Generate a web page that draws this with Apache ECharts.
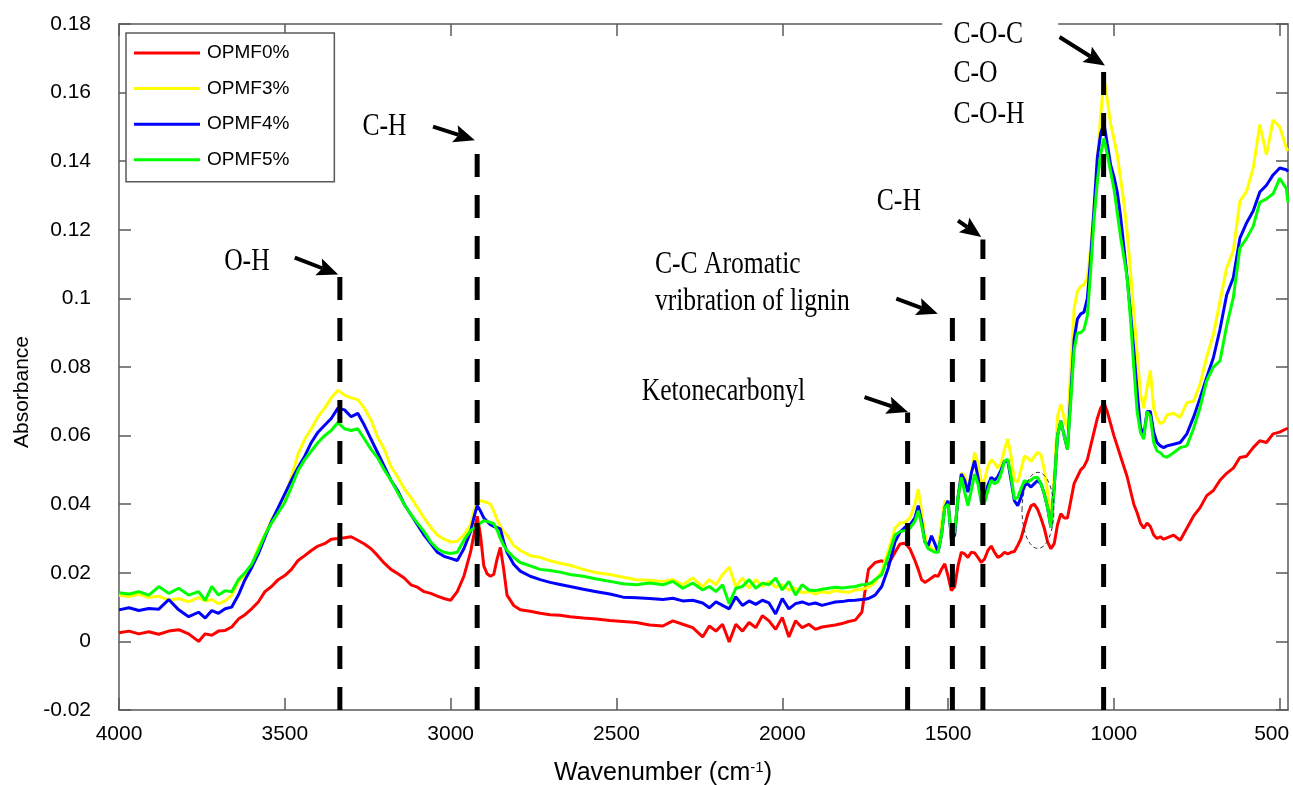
<!DOCTYPE html>
<html>
<head>
<meta charset="utf-8">
<script src="https://cdn.jsdelivr.net/npm/echarts@6/dist/echarts.min.js"></script>
<style>
  html, body { margin: 0; padding: 0; background: #fff; }
  #chart { width: 1293px; height: 785px; }
</style>
</head>
<body>
<div id="chart"></div>
<script>
// FTIR spectra, wavenumber descending (cm-1)
const wavenumber = [
  4000, 3970, 3940, 3910, 3880, 3850, 3820, 3790, 3760, 3740,
  3720, 3700, 3680, 3660, 3640, 3620, 3600, 3580, 3560, 3540,
  3520, 3500, 3480, 3460, 3440, 3420, 3400, 3380, 3360, 3340,
  3320, 3300, 3280, 3260, 3240, 3220, 3200, 3180, 3160, 3140,
  3120, 3100, 3080, 3060, 3040, 3020, 3000, 2980, 2960, 2940,
  2930, 2920, 2910, 2900, 2890, 2880, 2870, 2860, 2850, 2840,
  2830, 2810, 2790, 2760, 2730, 2700, 2670, 2640, 2600, 2560,
  2520, 2480, 2440, 2400, 2360, 2330, 2300, 2270, 2240, 2220,
  2200, 2180, 2160, 2140, 2120, 2100, 2080, 2060, 2040, 2020,
  2000, 1980, 1960, 1940, 1920, 1900, 1880, 1860, 1840, 1820,
  1800, 1780, 1760, 1750, 1740, 1730, 1720, 1700, 1680, 1660,
  1645, 1630, 1615, 1600, 1590, 1580, 1570, 1560, 1550, 1540,
  1530, 1520, 1510, 1500, 1490, 1480, 1470, 1460, 1450, 1440,
  1430, 1420, 1410, 1400, 1390, 1380, 1370, 1360, 1350, 1340,
  1330, 1320, 1310, 1300, 1290, 1280, 1270, 1260, 1250, 1240,
  1230, 1220, 1210, 1200, 1190, 1180, 1170, 1160, 1150, 1140,
  1130, 1120, 1110, 1100, 1090, 1080, 1070, 1060, 1050, 1040,
  1030, 1020, 1010, 1000, 990, 980, 970, 960, 950, 940,
  930, 920, 910, 900, 890, 880, 870, 860, 850, 840,
  820, 800, 780, 760, 740, 720, 700, 680, 660, 640,
  620, 600, 580, 560, 540, 520, 500, 480, 475
];

const opmf0 = [
  0.0025, 0.0030, 0.0022, 0.0028, 0.0021, 0.0030, 0.0034, 0.0022, 0.0000, 0.0022,
  0.0018, 0.0030, 0.0032, 0.0042, 0.0065, 0.0078, 0.0095, 0.0115, 0.0145, 0.0160,
  0.0180, 0.0192, 0.0210, 0.0236, 0.0250, 0.0265, 0.0278, 0.0285, 0.0298, 0.0300,
  0.0302, 0.0305, 0.0295, 0.0284, 0.0270, 0.0250, 0.0228, 0.0210, 0.0198, 0.0185,
  0.0165, 0.0158, 0.0145, 0.0140, 0.0132, 0.0125, 0.0120, 0.0145, 0.0190, 0.0260,
  0.0310, 0.0365, 0.0310, 0.0220, 0.0197, 0.0190, 0.0195, 0.0240, 0.0274, 0.0210,
  0.0135, 0.0105, 0.0092, 0.0088, 0.0082, 0.0078, 0.0076, 0.0072, 0.0068, 0.0065,
  0.0061, 0.0058, 0.0055, 0.0048, 0.0045, 0.0060, 0.0050, 0.0040, 0.0013, 0.0045,
  0.0030, 0.0050, -0.0002, 0.0050, 0.0030, 0.0055, 0.0040, 0.0075, 0.0060, 0.0035,
  0.0070, 0.0013, 0.0060, 0.0040, 0.0050, 0.0035, 0.0042, 0.0045, 0.0048, 0.0052,
  0.0058, 0.0062, 0.0085, 0.0150, 0.0210, 0.0220, 0.0230, 0.0235, 0.0225, 0.0260,
  0.0284, 0.0286, 0.0270, 0.0236, 0.0210, 0.0180, 0.0172, 0.0178, 0.0185, 0.0192,
  0.0190, 0.0210, 0.0226, 0.0190, 0.0148, 0.0160, 0.0220, 0.0260, 0.0255, 0.0245,
  0.0260, 0.0258, 0.0245, 0.0230, 0.0240, 0.0265, 0.0278, 0.0260, 0.0245, 0.0250,
  0.0260, 0.0255, 0.0260, 0.0262, 0.0280, 0.0300, 0.0335, 0.0370, 0.0395, 0.0400,
  0.0385, 0.0360, 0.0330, 0.0290, 0.0270, 0.0285, 0.0340, 0.0372, 0.0360, 0.0360,
  0.0410, 0.0460, 0.0480, 0.0500, 0.0510, 0.0530, 0.0570, 0.0610, 0.0650, 0.0680,
  0.0696, 0.0670, 0.0635, 0.0600, 0.0570, 0.0540, 0.0510, 0.0480, 0.0440, 0.0400,
  0.0375, 0.0345, 0.0330, 0.0345, 0.0335, 0.0310, 0.0300, 0.0305, 0.0298, 0.0302,
  0.0310, 0.0295, 0.0330, 0.0365, 0.0390, 0.0425, 0.0440, 0.0470, 0.0490, 0.0505,
  0.0536, 0.0540, 0.0565, 0.0585, 0.0580, 0.0605, 0.0610, 0.0620, 0.0620
];

const opmf3 = [
  0.0135, 0.0130, 0.0138, 0.0128, 0.0132, 0.0120, 0.0125, 0.0115, 0.0128, 0.0118,
  0.0122, 0.0110, 0.0118, 0.0135, 0.0175, 0.0195, 0.0220, 0.0274, 0.0310, 0.0355,
  0.0385, 0.0420, 0.0480, 0.0546, 0.0590, 0.0620, 0.0655, 0.0680, 0.0710, 0.0732,
  0.0718, 0.0710, 0.0705, 0.0680, 0.0645, 0.0595, 0.0560, 0.0510, 0.0480, 0.0445,
  0.0420, 0.0390, 0.0360, 0.0333, 0.0310, 0.0298, 0.0290, 0.0292, 0.0310, 0.0340,
  0.0380, 0.0405, 0.0410, 0.0408, 0.0405, 0.0400, 0.0380, 0.0355, 0.0335, 0.0320,
  0.0310, 0.0280, 0.0265, 0.0250, 0.0245, 0.0235, 0.0228, 0.0222, 0.0210, 0.0200,
  0.0195, 0.0187, 0.0180, 0.0178, 0.0175, 0.0180, 0.0165, 0.0185, 0.0160, 0.0180,
  0.0165, 0.0195, 0.0216, 0.0160, 0.0185, 0.0155, 0.0180, 0.0160, 0.0175, 0.0158,
  0.0165, 0.0150, 0.0155, 0.0142, 0.0145, 0.0138, 0.0145, 0.0142, 0.0148, 0.0145,
  0.0143, 0.0150, 0.0152, 0.0155, 0.0158, 0.0165, 0.0172, 0.0205, 0.0265, 0.0330,
  0.0345, 0.0347, 0.0360, 0.0400, 0.0444, 0.0380, 0.0310, 0.0285, 0.0270, 0.0265,
  0.0275, 0.0340, 0.0410, 0.0400, 0.0310, 0.0315, 0.0420, 0.0490, 0.0485, 0.0440,
  0.0490, 0.0551, 0.0520, 0.0465, 0.0470, 0.0510, 0.0530, 0.0520, 0.0505, 0.0520,
  0.0560, 0.0590, 0.0540, 0.0470, 0.0465, 0.0500, 0.0540, 0.0535, 0.0525, 0.0540,
  0.0551, 0.0545, 0.0500, 0.0435, 0.0355, 0.0480, 0.0655, 0.0692, 0.0650, 0.0620,
  0.0800, 0.0970, 0.1020, 0.1035, 0.1040, 0.1060, 0.1150, 0.1260, 0.1400, 0.1530,
  0.1642, 0.1580, 0.1510, 0.1465, 0.1420, 0.1350, 0.1280, 0.1190, 0.1080, 0.0960,
  0.0840, 0.0720, 0.0680, 0.0740, 0.0790, 0.0680, 0.0650, 0.0635, 0.0640, 0.0660,
  0.0665, 0.0653, 0.0696, 0.0700, 0.0750, 0.0830, 0.0895, 0.0992, 0.1089, 0.1138,
  0.1283, 0.1312, 0.1380, 0.1506, 0.1418, 0.1520, 0.1500, 0.1438, 0.1430
];

const opmf4 = [
  0.0092, 0.0098, 0.0090, 0.0096, 0.0094, 0.0122, 0.0092, 0.0072, 0.0085, 0.0068,
  0.0090, 0.0082, 0.0095, 0.0100, 0.0135, 0.0180, 0.0215, 0.0255, 0.0304, 0.0350,
  0.0390, 0.0430, 0.0470, 0.0507, 0.0540, 0.0580, 0.0610, 0.0630, 0.0650, 0.0680,
  0.0675, 0.0655, 0.0665, 0.0630, 0.0590, 0.0550, 0.0510, 0.0470, 0.0440, 0.0400,
  0.0370, 0.0340, 0.0310, 0.0285, 0.0260, 0.0248, 0.0242, 0.0236, 0.0270, 0.0320,
  0.0360, 0.0396, 0.0380, 0.0360, 0.0350, 0.0340, 0.0335, 0.0332, 0.0328, 0.0290,
  0.0260, 0.0225, 0.0205, 0.0190, 0.0180, 0.0172, 0.0166, 0.0160, 0.0152, 0.0145,
  0.0138, 0.0129, 0.0127, 0.0125, 0.0122, 0.0126, 0.0118, 0.0120, 0.0112, 0.0098,
  0.0115, 0.0105, 0.0095, 0.0130, 0.0105, 0.0118, 0.0108, 0.0120, 0.0112, 0.0080,
  0.0125, 0.0095, 0.0110, 0.0115, 0.0108, 0.0112, 0.0105, 0.0110, 0.0115, 0.0116,
  0.0119, 0.0120, 0.0122, 0.0123, 0.0125, 0.0130, 0.0135, 0.0160, 0.0215, 0.0290,
  0.0318, 0.0333, 0.0340, 0.0360, 0.0396, 0.0350, 0.0290, 0.0279, 0.0308, 0.0285,
  0.0260, 0.0310, 0.0390, 0.0410, 0.0294, 0.0310, 0.0420, 0.0488, 0.0470, 0.0435,
  0.0490, 0.0527, 0.0480, 0.0420, 0.0410, 0.0455, 0.0478, 0.0470, 0.0480, 0.0500,
  0.0525, 0.0527, 0.0470, 0.0410, 0.0396, 0.0420, 0.0455, 0.0459, 0.0450, 0.0460,
  0.0469, 0.0460, 0.0430, 0.0390, 0.0333, 0.0450, 0.0600, 0.0643, 0.0600, 0.0560,
  0.0720, 0.0880, 0.0940, 0.0955, 0.0960, 0.1000, 0.1120, 0.1260, 0.1410, 0.1480,
  0.1511, 0.1450, 0.1390, 0.1355, 0.1310, 0.1240, 0.1150, 0.1060, 0.0960, 0.0850,
  0.0730, 0.0625, 0.0600, 0.0670, 0.0670, 0.0610, 0.0580, 0.0570, 0.0565, 0.0570,
  0.0575, 0.0580, 0.0605, 0.0653, 0.0710, 0.0770, 0.0827, 0.0910, 0.1010, 0.1060,
  0.1176, 0.1220, 0.1255, 0.1310, 0.1330, 0.1360, 0.1380, 0.1375, 0.1370
];

const opmf5 = [
  0.0142, 0.0138, 0.0145, 0.0135, 0.0160, 0.0140, 0.0155, 0.0135, 0.0145, 0.0120,
  0.0160, 0.0135, 0.0148, 0.0145, 0.0180, 0.0200, 0.0225, 0.0265, 0.0310, 0.0345,
  0.0375, 0.0405, 0.0450, 0.0498, 0.0530, 0.0555, 0.0580, 0.0600, 0.0615, 0.0638,
  0.0620, 0.0615, 0.0620, 0.0590, 0.0560, 0.0535, 0.0500, 0.0470, 0.0435, 0.0400,
  0.0370, 0.0345, 0.0320, 0.0290, 0.0270, 0.0260, 0.0256, 0.0260, 0.0295, 0.0323,
  0.0330, 0.0335, 0.0345, 0.0352, 0.0350, 0.0347, 0.0343, 0.0325, 0.0300, 0.0280,
  0.0265, 0.0245, 0.0230, 0.0220, 0.0210, 0.0207, 0.0202, 0.0195, 0.0190, 0.0182,
  0.0175, 0.0168, 0.0165, 0.0170, 0.0165, 0.0175, 0.0155, 0.0170, 0.0150, 0.0160,
  0.0145, 0.0165, 0.0110, 0.0155, 0.0160, 0.0180, 0.0155, 0.0170, 0.0165, 0.0185,
  0.0150, 0.0175, 0.0135, 0.0165, 0.0150, 0.0148, 0.0152, 0.0155, 0.0158, 0.0156,
  0.0158, 0.0160, 0.0165, 0.0166, 0.0168, 0.0172, 0.0180, 0.0195, 0.0250, 0.0310,
  0.0320, 0.0323, 0.0330, 0.0350, 0.0381, 0.0340, 0.0290, 0.0270, 0.0265, 0.0260,
  0.0260, 0.0310, 0.0390, 0.0400, 0.0304, 0.0320, 0.0420, 0.0478, 0.0435, 0.0396,
  0.0440, 0.0488, 0.0460, 0.0405, 0.0405, 0.0440, 0.0470, 0.0460, 0.0465, 0.0490,
  0.0525, 0.0531, 0.0480, 0.0415, 0.0420, 0.0445, 0.0469, 0.0465, 0.0470, 0.0478,
  0.0478, 0.0460, 0.0430, 0.0390, 0.0333, 0.0450, 0.0600, 0.0643, 0.0600, 0.0560,
  0.0700, 0.0850, 0.0900, 0.0900, 0.0910, 0.0950, 0.1080, 0.1230, 0.1340, 0.1420,
  0.1467, 0.1420, 0.1370, 0.1320, 0.1250, 0.1180, 0.1120, 0.1060, 0.0940, 0.0800,
  0.0670, 0.0610, 0.0590, 0.0670, 0.0655, 0.0580, 0.0555, 0.0550, 0.0540, 0.0537,
  0.0550, 0.0565, 0.0570, 0.0620, 0.0682, 0.0760, 0.0800, 0.0818, 0.0920, 0.1002,
  0.1147, 0.1175, 0.1210, 0.1280, 0.1290, 0.1305, 0.1350, 0.1320, 0.1280
];

const seriesNames = ['OPMF0%', 'OPMF3%', 'OPMF4%', 'OPMF5%'];
const seriesColors = ['#ff0000', '#ffff00', '#0000ff', '#00ff00'];
const seriesValues = [opmf0, opmf3, opmf4, opmf5];

const xTicks = [4000, 3500, 3000, 2500, 2000, 1500, 1000, 500];
const xMin = 475, xMax = 4000;
const yMin = -0.02, yMax = 0.18;

// dashed band markers (wavenumber, top of line)
const bandWn = [3334, 2920, 1622, 1487, 1395, 1031];
const bandTop = [0.1073, 0.1460, 0.0667, 0.0968, 0.1172, 0.1706];

// arrows pointing at band markers
const arrowFromWn = [3470, 3053, 1752, 1656, 1470, 1164];
const arrowFromAbs = [0.1119, 0.1501, 0.0712, 0.0999, 0.1227, 0.1762];
const arrowToWn = [3339, 2927, 1621, 1531, 1400, 1027];
const arrowToAbs = [0.1070, 0.1461, 0.0669, 0.0955, 0.1179, 0.1679];

// band labels (left edge, vertical centre)
const labelText = ['O-H', 'C-H', 'C-C Aromatic', 'vribration of lignin', 'Ketonecarbonyl',
  'C-H', 'C-O-C', 'C-O', 'C-O-H'];
const labelWn = [3683, 3266, 2384, 2384, 2424, 1715, 1484, 1484, 1484];
const labelAbs = [0.1108, 0.1500, 0.1098, 0.0991, 0.0729, 0.1283, 0.1770, 0.1655, 0.1536];

// dashed ellipse around the 1230 band (centre and half-sizes)
const ellipseCenter = [1229, 0.0382];
const ellipseRadius = [48, 0.0111];

const sansFont = '"Liberation Sans", Arial, sans-serif';
const serifFont = '"Liberation Serif", "Times New Roman", serif';
const axisLineStyle = { color: '#595959', width: 1.5 };

const chart = echarts.init(document.getElementById('chart'));

const lineSeries = seriesValues.map((vals, k) => ({
  type: 'line',
  name: seriesNames[k],
  data: wavenumber.map((w, i) => [w, vals[i]]),
  showSymbol: false,
  symbol: 'none',
  lineStyle: { color: seriesColors[k], width: 3 },
  itemStyle: { color: seriesColors[k] },
  silent: true,
  z: 2
}));

const bandSeries = {
  type: 'custom',
  name: 'bands',
  silent: true,
  z: 5,
  data: bandWn.map((w, i) => [w, bandTop[i]]),
  renderItem: (params, api) => {
    const top = api.coord([api.value(0), api.value(1)]);
    const bottom = api.coord([api.value(0), yMin]);
    return {
      type: 'line',
      shape: { x1: bottom[0], y1: bottom[1], x2: top[0], y2: top[1] },
      style: { stroke: '#000', lineWidth: 5, lineDash: [23, 18] }
    };
  }
};

const arrowSeries = {
  type: 'custom',
  name: 'arrows',
  silent: true,
  z: 6,
  data: arrowFromWn.map((w, i) => [w, arrowFromAbs[i], arrowToWn[i], arrowToAbs[i]]),
  renderItem: (params, api) => {
    const a = api.coord([api.value(0), api.value(1)]);
    const b = api.coord([api.value(2), api.value(3)]);
    const dx = b[0] - a[0], dy = b[1] - a[1];
    const len = Math.hypot(dx, dy);
    const ux = dx / len, uy = dy / len;
    const nx = -uy, ny = ux;
    const head = 21, half = 9, notch = 4;
    const bx = b[0] - ux * head, by = b[1] - uy * head;
    return {
      type: 'group',
      children: [
        {
          type: 'line',
          shape: { x1: a[0], y1: a[1], x2: bx + ux * notch, y2: by + uy * notch },
          style: { stroke: '#000', lineWidth: 4 }
        },
        {
          type: 'polygon',
          shape: {
            points: [
              [b[0], b[1]],
              [bx + nx * half, by + ny * half],
              [bx + ux * notch, by + uy * notch],
              [bx - nx * half, by - ny * half]
            ]
          },
          style: { fill: '#000' }
        }
      ]
    };
  }
};

const labelSeries = {
  type: 'custom',
  name: 'labels',
  silent: true,
  z: 7,
  data: labelWn.map((w, i) => [w, labelAbs[i]]),
  renderItem: (params, api) => {
    const p = api.coord([api.value(0), api.value(1)]);
    const text = labelText[params.dataIndex];
    const style = {
      text: text,
      fill: '#000',
      font: '32px ' + serifFont,
      textAlign: 'left',
      align: 'left',
      textVerticalAlign: 'middle',
      verticalAlign: 'middle'
    };
    let x = p[0];
    if (text === 'C-O-C') {
      // white box hides the frame behind the top label, as in the original
      style.backgroundColor = '#fff';
      style.padding = [3, 44, 3, 14];
      x -= 14 * 0.8;
    }
    return { type: 'text', x: x, y: p[1], scaleX: 0.8, style: style };
  }
};

const ellipseSeries = {
  type: 'custom',
  name: 'ellipse',
  silent: true,
  z: 6,
  data: [ellipseCenter],
  renderItem: (params, api) => {
    const c = api.coord([api.value(0), api.value(1)]);
    const s = api.size(ellipseRadius);
    return {
      type: 'ellipse',
      shape: { cx: c[0], cy: c[1], rx: Math.abs(s[0]), ry: Math.abs(s[1]) },
      style: { fill: 'none', stroke: '#333', lineWidth: 1, lineDash: [4, 3] }
    };
  }
};

function xAxisDef(position, showLabels) {
  return {
    type: 'value',
    inverse: true,
    min: xMin,
    max: xMax,
    position: position,
    axisLine: { show: true, onZero: false, lineStyle: axisLineStyle },
    axisTick: { show: true, inside: true, length: 12, customValues: xTicks, lineStyle: axisLineStyle },
    axisLabel: {
      show: showLabels,
      customValues: xTicks,
      fontSize: 21,
      fontFamily: sansFont,
      color: '#000',
      margin: 14,
      // last label sits against the frame edge, nudge it inwards
      formatter: v => (v === 500 ? '{edge|500}' : String(v)),
      rich: { edge: { fontSize: 21, fontFamily: sansFont, color: '#000', padding: [0, 16, 0, 0] } }
    },
    splitLine: { show: false }
  };
}

function yAxisDef(position, showLabels) {
  return {
    type: 'value',
    min: yMin,
    max: yMax,
    interval: 0.02,
    position: position,
    axisLine: { show: true, onZero: false, lineStyle: axisLineStyle },
    axisTick: { show: true, inside: true, length: 12, lineStyle: axisLineStyle },
    axisLabel: {
      show: showLabels,
      fontSize: 21,
      fontFamily: sansFont,
      color: '#000',
      margin: 28,
      padding: [0, 0, 10, 0],
      formatter: v => String(+v.toFixed(2))
    },
    splitLine: { show: false }
  };
}

const option = {
  animation: false,
  backgroundColor: '#fff',
  textStyle: { fontFamily: sansFont },
  grid: { left: 119, right: 5, top: 24, bottom: 75, containLabel: false, outerBoundsMode: 'none' },
  legend: {
    orient: 'vertical',
    left: 126,
    top: 33,
    data: seriesNames,
    icon: 'rect',
    itemWidth: 66,
    itemHeight: 3,
    itemGap: 15.6,
    padding: [10, 45, 12, 8],
    borderColor: '#595959',
    borderWidth: 1.5,
    backgroundColor: '#fff',
    selectedMode: false,
    textStyle: { fontFamily: sansFont, fontSize: 19, lineHeight: 20, color: '#000', padding: [0, 0, 0, 2] }
  },
  xAxis: [xAxisDef('bottom', true), xAxisDef('top', false)],
  yAxis: [yAxisDef('left', true), yAxisDef('right', false)],
  graphic: [
    {
      type: 'text',
      x: 22,
      y: 392,
      rotation: Math.PI / 2,
      style: {
        text: 'Absorbance',
        font: '21px ' + sansFont,
        fill: '#000',
        textAlign: 'center',
        align: 'center',
        textVerticalAlign: 'middle',
        verticalAlign: 'middle'
      }
    },
    {
      type: 'text',
      x: 663,
      y: 773,
      style: {
        text: '{a|Wavenumber (cm}{s|-1}{a|)}',
        rich: {
          a: { fontSize: 25, fontFamily: sansFont, fill: '#000', color: '#000' },
          s: { fontSize: 15, fontFamily: sansFont, fill: '#000', color: '#000', verticalAlign: 'top' }
        },
        fill: '#000',
        textAlign: 'center',
        align: 'center',
        textVerticalAlign: 'middle',
        verticalAlign: 'middle'
      }
    }
  ],
  series: [...lineSeries, ellipseSeries, bandSeries, arrowSeries, labelSeries]
};

chart.setOption(option);
window.addEventListener('resize', () => chart.resize());
</script>
</body>
</html>
